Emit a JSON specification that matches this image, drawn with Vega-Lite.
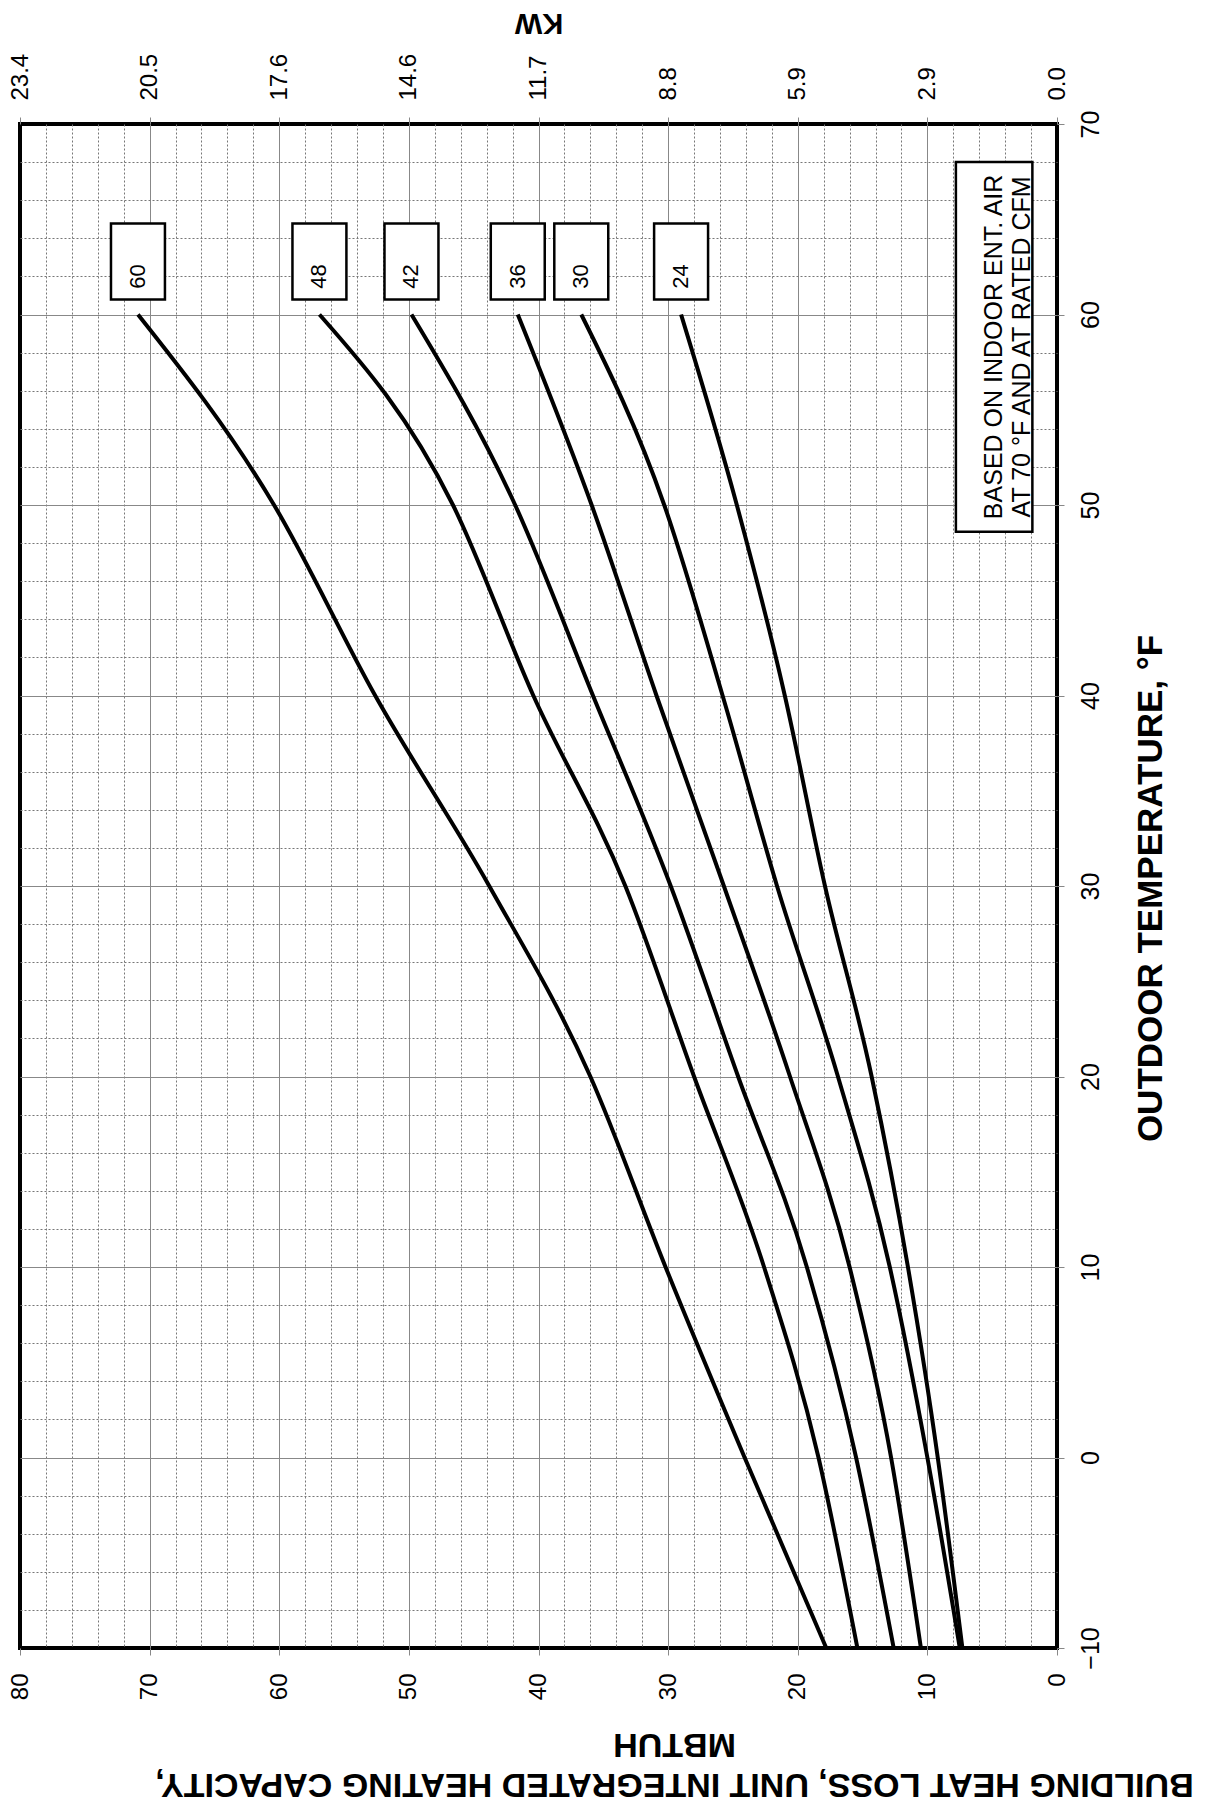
{
  "$schema": "https://vega.github.io/schema/vega-lite/v6.json",
  "width": 1037,
  "height": 1524,
  "autosize": {"type": "none"},
  "padding": {"left": 20, "top": 124, "right": 155, "bottom": 158},
  "background": "white",
  "config": {
    "font": "Liberation Sans",
    "view": {"stroke": "black", "strokeWidth": 4},
    "axis": {"labelFont": "Liberation Sans", "titleFont": "Liberation Sans", "labelColor": "black", "titleColor": "black"}
  },
  "datasets": {
    "curves": [
      {"model": "60", "temp": -10, "mbtuh": 17.8},
      {"model": "60", "temp": 0, "mbtuh": 24.1},
      {"model": "60", "temp": 10, "mbtuh": 30.2},
      {"model": "60", "temp": 20, "mbtuh": 36.0},
      {"model": "60", "temp": 30, "mbtuh": 43.8},
      {"model": "60", "temp": 40, "mbtuh": 52.6},
      {"model": "60", "temp": 50, "mbtuh": 60.4},
      {"model": "60", "temp": 60, "mbtuh": 70.9},
      {"model": "48", "temp": -10, "mbtuh": 15.4},
      {"model": "48", "temp": 0, "mbtuh": 18.4},
      {"model": "48", "temp": 10, "mbtuh": 22.6},
      {"model": "48", "temp": 20, "mbtuh": 28.0},
      {"model": "48", "temp": 30, "mbtuh": 33.3},
      {"model": "48", "temp": 40, "mbtuh": 40.4},
      {"model": "48", "temp": 50, "mbtuh": 46.6},
      {"model": "48", "temp": 60, "mbtuh": 56.9},
      {"model": "42", "temp": -10, "mbtuh": 12.6},
      {"model": "42", "temp": 0, "mbtuh": 15.5},
      {"model": "42", "temp": 10, "mbtuh": 19.3},
      {"model": "42", "temp": 20, "mbtuh": 24.6},
      {"model": "42", "temp": 30, "mbtuh": 29.8},
      {"model": "42", "temp": 40, "mbtuh": 35.8},
      {"model": "42", "temp": 50, "mbtuh": 41.8},
      {"model": "42", "temp": 60, "mbtuh": 49.8},
      {"model": "36", "temp": -10, "mbtuh": 10.5},
      {"model": "36", "temp": 0, "mbtuh": 12.8},
      {"model": "36", "temp": 10, "mbtuh": 16.0},
      {"model": "36", "temp": 20, "mbtuh": 20.6},
      {"model": "36", "temp": 30, "mbtuh": 25.7},
      {"model": "36", "temp": 40, "mbtuh": 30.9},
      {"model": "36", "temp": 50, "mbtuh": 35.9},
      {"model": "36", "temp": 60, "mbtuh": 41.6},
      {"model": "30", "temp": -10, "mbtuh": 7.5},
      {"model": "30", "temp": 0, "mbtuh": 10.0},
      {"model": "30", "temp": 10, "mbtuh": 12.9},
      {"model": "30", "temp": 20, "mbtuh": 16.9},
      {"model": "30", "temp": 30, "mbtuh": 21.6},
      {"model": "30", "temp": 40, "mbtuh": 25.8},
      {"model": "30", "temp": 50, "mbtuh": 30.3},
      {"model": "30", "temp": 60, "mbtuh": 36.7},
      {"model": "24", "temp": -10, "mbtuh": 7.3},
      {"model": "24", "temp": 0, "mbtuh": 9.2},
      {"model": "24", "temp": 10, "mbtuh": 11.5},
      {"model": "24", "temp": 20, "mbtuh": 14.3},
      {"model": "24", "temp": 30, "mbtuh": 17.9},
      {"model": "24", "temp": 40, "mbtuh": 21.0},
      {"model": "24", "temp": 50, "mbtuh": 24.7},
      {"model": "24", "temp": 60, "mbtuh": 29.0}
    ]
  },
  "layer": [
    {
      "data": {"name": "curves"},
      "mark": {"type": "line", "color": "black", "strokeWidth": 4, "interpolate": "monotone"},
      "encoding": {
        "x": {
          "field": "mbtuh", "type": "quantitative",
          "scale": {"domain": [0, 80], "reverse": true, "nice": false, "zero": false},
          "axis": {
            "orient": "bottom",
            "values": [0,2,4,6,8,10,12,14,16,18,20,22,24,26,28,30,32,34,36,38,40,42,44,46,48,50,52,54,56,58,60,62,64,66,68,70,72,74,76,78,80],
            "labelExpr": "datum.value % 10 === 0 ? datum.label : ''",
            "labelAngle": 270, "labelAlign": "right", "labelBaseline": "middle",
            "labelFontSize": 24, "labelPadding": 18, "labelFlush": false, "labelOverlap": false,
            "tickSize": 7, "tickColor": "#888", "tickWidth": 1,
            "tickOpacity": {"condition": {"test": "datum.value % 10 === 0", "value": 1}, "value": 0},
            "grid": true,
            "gridColor": {"condition": {"test": "datum.value % 10 === 0", "value": "#888"}, "value": "#777"},
            "gridDash": {"condition": {"test": "datum.value % 10 === 0", "value": []}, "value": [2, 2]},
            "gridOpacity": {"condition": {"test": "datum.value === 0 || datum.value === 80", "value": 0}, "value": 1},
            "gridWidth": 1,
            "domain": false,
            "title": ["BUILDING HEAT LOSS, UNIT INTEGRATED HEATING CAPACITY,", "MBTUH"],
            "titleAngle": 180, "titleFontSize": 34, "titleFontWeight": "bold",
            "titleBaseline": "alphabetic", "titleAlign": "center",
            "titleX": 654, "titleY": 125, "titleLineHeight": 40
          }
        },
        "y": {
          "field": "temp", "type": "quantitative",
          "scale": {"domain": [-10, 70], "nice": false, "zero": false},
          "axis": {
            "orient": "right",
            "values": [-10,-8,-6,-4,-2,0,2,4,6,8,10,12,14,16,18,20,22,24,26,28,30,32,34,36,38,40,42,44,46,48,50,52,54,56,58,60,62,64,66,68,70],
            "labelExpr": "datum.value % 10 === 0 ? datum.label : ''",
            "labelAngle": 270, "labelAlign": "center", "labelBaseline": "top",
            "labelFontSize": 25, "labelPadding": 14, "labelFlush": false, "labelOverlap": false,
            "tickSize": 7, "tickColor": "#888", "tickWidth": 1,
            "tickOpacity": {"condition": {"test": "datum.value % 10 === 0", "value": 1}, "value": 0},
            "grid": true,
            "gridColor": {"condition": {"test": "datum.value % 10 === 0", "value": "#888"}, "value": "#777"},
            "gridDash": {"condition": {"test": "datum.value % 10 === 0", "value": []}, "value": [2, 2]},
            "gridOpacity": {"condition": {"test": "datum.value === -10 || datum.value === 70", "value": 0}, "value": 1},
            "gridWidth": 1,
            "domain": false,
            "title": "OUTDOOR TEMPERATURE, °F",
            "titleAngle": 270, "titleFontSize": 35, "titleFontWeight": "bold",
            "titleBaseline": "alphabetic", "titleAlign": "center",
            "titleX": 104, "titleY": 764
          }
        },
        "detail": {"field": "model", "type": "nominal"}
      }
    },
    {
      "data": {"name": "curves"},
      "transform": [{"filter": "datum.temp === 60"}],
      "mark": {"type": "point", "shape": "M-0.71,-1H0.71V1H-0.71Z", "size": 5776, "filled": true, "fill": "white", "stroke": "black", "strokeWidth": 2.5, "opacity": 1, "yOffset": -53},
      "encoding": {
        "x": {
          "field": "mbtuh", "type": "quantitative",
          "axis": {
            "orient": "top",
            "values": [0,10,20,30,40,50,60,70,80],
            "labelExpr": "['0.0','2.9','5.9','8.8','11.7','14.6','17.6','20.5','23.4'][round(datum.value/10)]",
            "labelAngle": 270, "labelAlign": "left", "labelBaseline": "middle",
            "labelFontSize": 24, "labelPadding": 17, "labelFlush": false, "labelOverlap": false,
            "tickSize": 7, "tickColor": "#888", "tickWidth": 1,
            "grid": false, "domain": false,
            "title": "KW",
            "titleAngle": 180, "titleFontSize": 29, "titleFontWeight": "bold",
            "titleBaseline": "alphabetic", "titleAlign": "center",
            "titleX": 518.5, "titleY": -111
          }
        },
        "y": {"field": "temp", "type": "quantitative", "axis": null}
      }
    },
    {
      "data": {"name": "curves"},
      "transform": [{"filter": "datum.temp === 60"}],
      "mark": {"type": "text", "angle": 270, "fontSize": 22, "align": "center", "baseline": "middle", "color": "black", "yOffset": -38},
      "encoding": {
        "x": {"field": "mbtuh", "type": "quantitative", "axis": null},
        "y": {"field": "temp", "type": "quantitative", "axis": null},
        "text": {"field": "model"}
      }
    },
    {
      "data": {"values": [{}]},
      "mark": {"type": "rect", "fill": "white", "stroke": "black", "strokeWidth": 2.5},
      "encoding": {
        "x": {"datum": 7.8, "type": "quantitative", "axis": null},
        "x2": {"datum": 1.9},
        "y": {"datum": 48.6, "type": "quantitative", "axis": null},
        "y2": {"datum": 68.0}
      }
    },
    {
      "data": {"values": [{}]},
      "mark": {"type": "text", "text": ["BASED ON INDOOR ENT. AIR", "AT 70 °F AND AT RATED CFM"], "angle": 270, "fontSize": 25, "lineHeight": 28, "align": "center", "baseline": "middle", "color": "black"},
      "encoding": {
        "x": {"datum": 4.85, "type": "quantitative", "axis": null},
        "y": {"datum": 58.3, "type": "quantitative", "axis": null}
      }
    }
  ],
  "resolve": {"axis": {"x": "independent", "y": "independent"}}
}
